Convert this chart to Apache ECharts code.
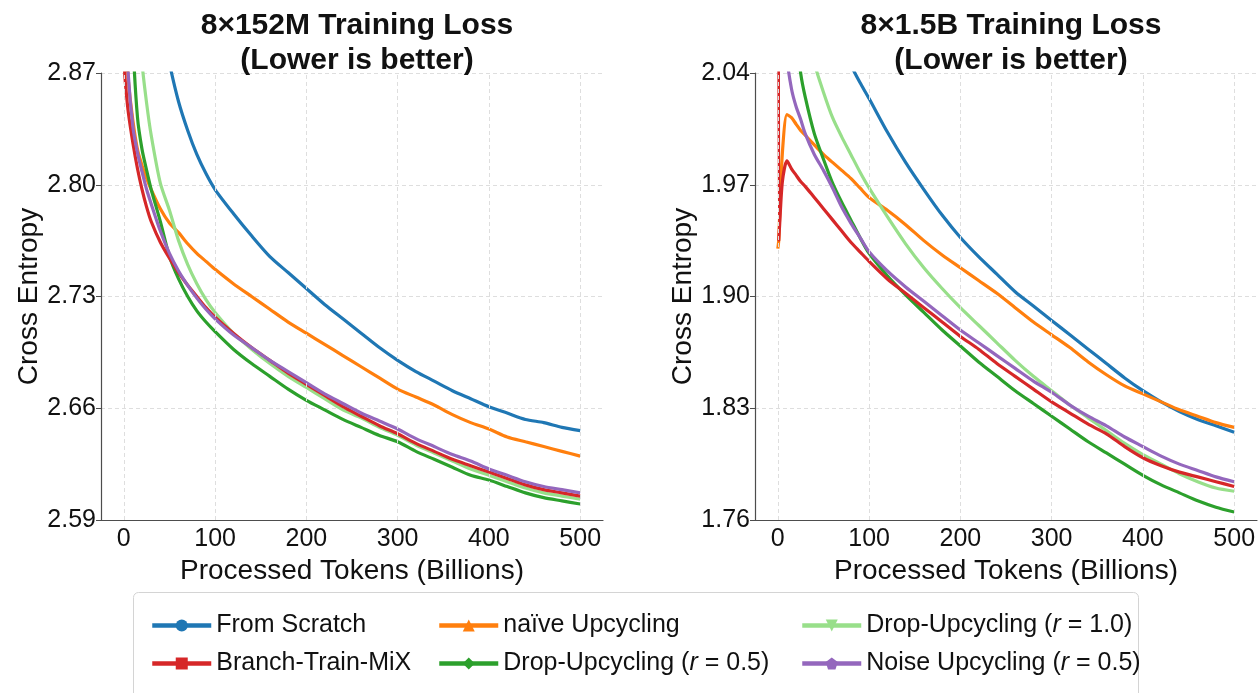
<!DOCTYPE html>
<html>
<head>
<meta charset="utf-8">
<script src="https://cdn.jsdelivr.net/npm/echarts@6/dist/echarts.min.js"></script>
<style>
  html, body { margin: 0; padding: 0; background: #ffffff; }
  #chart { width: 1260px; height: 693px; }
</style>
</head>
<body>
<div id="chart"></div>
<script>
// Processed tokens (billions) at which each loss value is sampled
const tokens = [0, 1, 2, 5, 10, 15, 20, 25, 30, 40, 50, 60, 70, 80, 90, 100,
  120, 140, 160, 180, 200, 220, 240, 260, 280, 300, 320, 340, 360, 380, 400,
  420, 440, 460, 480, 500];

// 8x152M model: training cross entropy
const smallFromScratch = [3.60, 3.55, 3.50, 3.35, 3.20, 3.10, 3.04, 2.995, 2.96, 2.905, 2.876, 2.852, 2.834, 2.819, 2.807, 2.797,
  2.782, 2.768, 2.755, 2.745, 2.735, 2.725, 2.716, 2.707, 2.698, 2.690, 2.683, 2.677, 2.671, 2.666, 2.661,
  2.657, 2.653, 2.651, 2.648, 2.646];
const smallNaive = [2.95, 2.93, 2.90, 2.865, 2.840, 2.822, 2.812, 2.804, 2.797, 2.785, 2.776, 2.770, 2.763, 2.757, 2.752, 2.747,
  2.738, 2.730, 2.722, 2.714, 2.707, 2.700, 2.693, 2.686, 2.679, 2.672, 2.667, 2.662, 2.656, 2.651, 2.647,
  2.642, 2.639, 2.636, 2.633, 2.630];
const smallBTX = [2.92, 2.87, 2.862, 2.845, 2.826, 2.810, 2.797, 2.786, 2.777, 2.764, 2.754, 2.745, 2.737, 2.730, 2.723, 2.717,
  2.707, 2.698, 2.690, 2.682, 2.675, 2.668, 2.661, 2.655, 2.649, 2.644, 2.638, 2.633, 2.628, 2.624, 2.620,
  2.616, 2.612, 2.609, 2.607, 2.605];
const smallDrop05 = [3.10, 3.08, 3.05, 2.98, 2.89, 2.842, 2.822, 2.809, 2.797, 2.777, 2.755, 2.741, 2.730, 2.721, 2.714, 2.708,
  2.697, 2.688, 2.680, 2.672, 2.665, 2.659, 2.653, 2.648, 2.643, 2.639, 2.633, 2.628, 2.623, 2.618, 2.615,
  2.611, 2.607, 2.604, 2.602, 2.600];
const smallDrop10 = [3.20, 3.18, 3.15, 3.07, 2.98, 2.92, 2.876, 2.851, 2.831, 2.801, 2.784, 2.765, 2.750, 2.738, 2.728, 2.720,
  2.707, 2.697, 2.688, 2.680, 2.673, 2.666, 2.659, 2.654, 2.648, 2.643, 2.637, 2.632, 2.627, 2.622, 2.618,
  2.614, 2.610, 2.607, 2.605, 2.603];
const smallNoise = [2.95, 2.93, 2.91, 2.868, 2.836, 2.820, 2.808, 2.797, 2.788, 2.771, 2.757, 2.746, 2.737, 2.729, 2.722, 2.716,
  2.706, 2.698, 2.690, 2.683, 2.676, 2.669, 2.663, 2.657, 2.652, 2.647, 2.641, 2.636, 2.631, 2.627, 2.622,
  2.618, 2.614, 2.611, 2.609, 2.607];

// 8x1.5B model: training cross entropy
const bigFromScratch = [2.60, 2.55, 2.50, 2.40, 2.30, 2.25, 2.21, 2.18, 2.16, 2.12, 2.095, 2.075, 2.058, 2.045, 2.034, 2.024,
  2.003, 1.984, 1.967, 1.951, 1.937, 1.925, 1.914, 1.903, 1.894, 1.885, 1.876, 1.867, 1.858, 1.849, 1.841,
  1.834, 1.828, 1.823, 1.819, 1.815];
const bigNaive = [1.930, 1.935, 1.950, 1.990, 2.014, 2.012, 2.008, 2.004, 2.001, 1.995, 1.989, 1.984, 1.979, 1.974, 1.968, 1.962,
  1.954, 1.945, 1.935, 1.926, 1.918, 1.910, 1.902, 1.893, 1.884, 1.876, 1.868, 1.859, 1.851, 1.844, 1.839,
  1.834, 1.829, 1.825, 1.821, 1.818];
const bigBTX = [2.60, 1.935, 1.945, 1.972, 1.985, 1.980, 1.976, 1.972, 1.969, 1.962, 1.955, 1.948, 1.941, 1.934, 1.928, 1.922,
  1.911, 1.902, 1.893, 1.884, 1.875, 1.867, 1.858, 1.850, 1.842, 1.834, 1.827, 1.820, 1.814, 1.806, 1.799,
  1.794, 1.790, 1.787, 1.784, 1.781];
const bigDrop05 = [2.40, 2.37, 2.34, 2.25, 2.15, 2.10, 2.065, 2.040, 2.025, 2.002, 1.986, 1.971, 1.959, 1.948, 1.937, 1.927,
  1.913, 1.901, 1.890, 1.879, 1.869, 1.859, 1.850, 1.841, 1.833, 1.825, 1.817, 1.809, 1.802, 1.795, 1.788,
  1.782, 1.777, 1.772, 1.768, 1.765];
const bigDrop10 = [2.60, 2.55, 2.50, 2.40, 2.27, 2.19, 2.13, 2.09, 2.07, 2.046, 2.028, 2.012, 2.000, 1.989, 1.978, 1.968,
  1.950, 1.933, 1.918, 1.905, 1.893, 1.882, 1.871, 1.860, 1.850, 1.841, 1.832, 1.824, 1.816, 1.808, 1.801,
  1.795, 1.789, 1.784, 1.780, 1.778];
const bigNoise = [2.25, 2.22, 2.19, 2.12, 2.05, 2.03, 2.019, 2.011, 2.002, 1.989, 1.979, 1.968, 1.956, 1.946, 1.937, 1.928,
  1.916, 1.906, 1.897, 1.888, 1.879, 1.871, 1.863, 1.855, 1.847, 1.840, 1.832, 1.825, 1.819, 1.812, 1.806,
  1.800, 1.795, 1.791, 1.787, 1.784];

// Axis settings
const xTicks = [0, 100, 200, 300, 400, 500];
const smallYTicks = [2.59, 2.66, 2.73, 2.80, 2.87];
const bigYTicks = [1.76, 1.83, 1.90, 1.97, 2.04];

const FONT = '"Liberation Sans", Arial, Helvetica, sans-serif';
const TEXT = '#111111';

// Method styles: name, colour, marker
const methods = [
  { name: 'From Scratch', color: '#1f77b4', symbol: 'circle', small: smallFromScratch, big: bigFromScratch },
  { name: 'naïve Upcycling', color: '#ff7f0e', symbol: 'triangle', small: smallNaive, big: bigNaive },
  { name: 'Drop-Upcycling (r = 1.0)', color: '#98df8a', symbol: 'path://M0,0 L10,0 L5,9 Z', small: smallDrop10, big: bigDrop10 },
  { name: 'Drop-Upcycling (r = 0.5)', color: '#2ca02c', symbol: 'diamond', small: smallDrop05, big: bigDrop05 },
  { name: 'Branch-Train-MiX', color: '#d62728', symbol: 'rect', small: smallBTX, big: bigBTX },
  { name: 'Noise Upcycling (r = 0.5)', color: '#9467bd', symbol: 'path://M5,0 L10,3.8 L8.1,10 L1.9,10 L0,3.8 Z', small: smallNoise, big: bigNoise }
];

function pairs(values) {
  return tokens.map((t, i) => [t, values[i]]);
}

const series = [];
methods.forEach(m => {
  [['small', 0], ['big', 1]].forEach(([key, idx]) => {
    series.push({
      name: m.name,
      type: 'line',
      xAxisIndex: idx,
      yAxisIndex: idx,
      data: pairs(m[key]),
      symbol: m.symbol,
      symbolSize: 11,
      showSymbol: false,
      smooth: 0.25,
      clip: true,
      lineStyle: { color: m.color, width: 3.2 },
      itemStyle: { color: m.color },
      emphasis: { disabled: true }
    });
  });
});

// Vertical dashed grid lines at each x tick
[0, 1].forEach(idx => {
  series.push({
    type: 'line',
    xAxisIndex: idx,
    yAxisIndex: idx,
    data: [],
    silent: true,
    z: 1,
    markLine: {
      silent: true,
      symbol: 'none',
      label: { show: false },
      lineStyle: { color: '#dedede', type: [4, 3], width: 1 },
      data: xTicks.map(v => ({ xAxis: v }))
    }
  });
});

const grids = [
  { left: 101, top: 73, width: 502, height: 447 },
  { left: 755, top: 73, width: 502, height: 447 }
];

function makeXAxis(idx) {
  return {
    type: 'value',
    gridIndex: idx,
    min: -25,
    max: 525,
    splitNumber: 5,
    name: 'Processed Tokens (Billions)',
    nameLocation: 'middle',
    nameGap: 31,
    nameTextStyle: { fontFamily: FONT, fontSize: 28, color: TEXT },
    axisLine: { show: true, onZero: false, lineStyle: { color: '#4d4d4d', width: 1.2 } },
    axisTick: { show: false },
    axisLabel: {
      fontFamily: FONT, fontSize: 25, color: TEXT, margin: 7,
      showMinLabel: false, showMaxLabel: false,
      formatter: v => (xTicks.indexOf(v) >= 0 ? String(v) : '')
    },
    splitLine: { show: false }
  };
}

function makeYAxis(idx, ticks) {
  return {
    type: 'value',
    gridIndex: idx,
    min: ticks[0],
    max: ticks[ticks.length - 1],
    interval: 0.07,
    name: 'Cross Entropy',
    nameLocation: 'middle',
    nameGap: 58,
    nameTextStyle: { fontFamily: FONT, fontSize: 28, color: TEXT },
    axisLine: { show: true, onZero: false, lineStyle: { color: '#4d4d4d', width: 1.2 } },
    axisTick: { show: true, length: 5, lineStyle: { color: '#4d4d4d' } },
    axisLabel: {
      fontFamily: FONT, fontSize: 25, color: TEXT, margin: 5,
      formatter: v => v.toFixed(2)
    },
    splitLine: { show: true, lineStyle: { color: '#dedede', type: [4, 3], width: 1 } }
  };
}

function italicR(name) {
  return name.replace(/\(r = ([0-9.]+)\)/, '({i|r} = $1)');
}

const legendBase = {
  orient: 'vertical',
  top: 613,
  itemWidth: 59,
  itemHeight: 15,
  itemGap: 13,
  padding: 0,
  selectedMode: false,
  lineStyle: { width: 4.5 },
  textStyle: {
    fontFamily: FONT, fontSize: 25, color: TEXT,
    rich: { i: { fontFamily: FONT, fontSize: 25, fontStyle: 'italic', color: TEXT } }
  },
  formatter: italicR
};

const option = {
  animation: false,
  backgroundColor: '#ffffff',
  title: [
    {
      text: '8×152M Training Loss\n(Lower is better)',
      left: 352, top: 3, textAlign: 'center',
      textStyle: { fontFamily: FONT, fontSize: 30, fontWeight: 'bold', color: TEXT, lineHeight: 35 }
    },
    {
      text: '8×1.5B Training Loss\n(Lower is better)',
      left: 1006, top: 3, textAlign: 'center',
      textStyle: { fontFamily: FONT, fontSize: 30, fontWeight: 'bold', color: TEXT, lineHeight: 35 }
    }
  ],
  grid: grids,
  xAxis: [makeXAxis(0), makeXAxis(1)],
  yAxis: [makeYAxis(0, smallYTicks), makeYAxis(1, bigYTicks)],
  legend: [
    Object.assign({}, legendBase, { left: 150, data: ['From Scratch', 'Branch-Train-MiX'] }),
    Object.assign({}, legendBase, { left: 437, data: ['naïve Upcycling', 'Drop-Upcycling (r = 0.5)'] }),
    Object.assign({}, legendBase, { left: 800, data: ['Drop-Upcycling (r = 1.0)', 'Noise Upcycling (r = 0.5)'] })
  ],
  graphic: [
    {
      type: 'rect',
      left: 133, top: 592, z: 0,
      shape: { width: 1005, height: 115, r: 5 },
      style: { fill: '#ffffff', stroke: '#d4d4d4', lineWidth: 1 }
    }
  ],
  series: series
};

const chart = echarts.init(document.getElementById('chart'), null, { renderer: 'canvas' });
chart.setOption(option);
</script>
</body>
</html>
